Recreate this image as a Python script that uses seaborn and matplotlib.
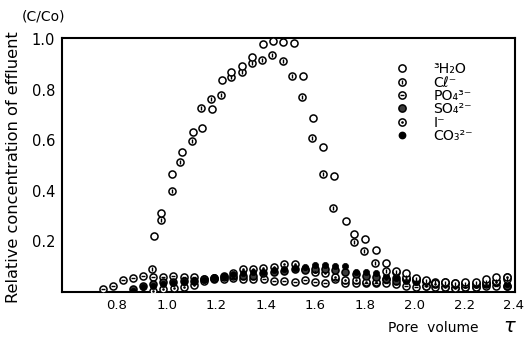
import matplotlib
matplotlib.use("Agg")
import matplotlib.pyplot as plt
import matplotlib.lines as mlines
import seaborn as sns
import pandas as pd
import numpy as np

# ---------------- data ----------------
h2o_x = [0.949, 0.977, 1.022, 1.06, 1.105, 1.143, 1.181, 1.225, 1.261, 1.305, 1.343, 1.387,
         1.427, 1.47, 1.514, 1.551, 1.589, 1.629, 1.675, 1.722, 1.757, 1.801, 1.844, 1.885,
         1.925, 1.965, 2.005, 2.046, 2.082, 2.123, 2.163, 2.203, 2.248, 2.288, 2.328, 2.371]
h2o_y = [0.223, 0.311, 0.466, 0.555, 0.631, 0.647, 0.722, 0.837, 0.871, 0.892, 0.928, 0.979,
         0.993, 0.987, 0.983, 0.854, 0.688, 0.574, 0.458, 0.282, 0.229, 0.211, 0.165, 0.113,
         0.084, 0.074, 0.054, 0.047, 0.037, 0.041, 0.034, 0.041, 0.041, 0.05, 0.058, 0.06]

cl_x = [0.94, 0.977, 1.022, 1.054, 1.102, 1.139, 1.179, 1.22, 1.261, 1.305, 1.343, 1.383,
        1.425, 1.468, 1.504, 1.547, 1.588, 1.629, 1.672, 1.757, 1.797, 1.84, 1.885, 1.925,
        1.965, 2.005, 2.046, 2.082, 2.123, 2.163, 2.203, 2.248, 2.288, 2.328, 2.371]
cl_y = [0.09, 0.285, 0.40, 0.514, 0.596, 0.728, 0.764, 0.777, 0.851, 0.871, 0.904, 0.917,
        0.937, 0.913, 0.854, 0.77, 0.607, 0.466, 0.331, 0.196, 0.162, 0.113, 0.084, 0.08,
        0.06, 0.05, 0.045, 0.04, 0.035, 0.03, 0.03, 0.035, 0.04, 0.045, 0.05]

po4_x = [0.742, 0.782, 0.825, 0.863, 0.906, 0.946, 0.984, 1.027, 1.071, 1.112, 1.151, 1.192,
         1.231, 1.269, 1.309, 1.35, 1.394, 1.433, 1.473, 1.518, 1.558, 1.598, 1.639, 1.679,
         1.72, 1.764, 1.804, 1.844, 1.885, 1.925, 1.965, 2.005, 2.046, 2.082, 2.123, 2.163,
         2.203, 2.248, 2.288, 2.328, 2.371]
po4_y = [0.011, 0.025, 0.047, 0.054, 0.063, 0.058, 0.06, 0.063, 0.06, 0.06, 0.05, 0.05,
         0.05, 0.055, 0.05, 0.05, 0.05, 0.045, 0.045, 0.041, 0.046, 0.041, 0.034, 0.05,
         0.034, 0.034, 0.034, 0.034, 0.034, 0.03, 0.025, 0.02, 0.025, 0.02, 0.02, 0.015,
         0.02, 0.02, 0.025, 0.025, 0.025]

so4_x = [0.863, 0.906, 0.946, 0.984, 1.027, 1.071, 1.112, 1.151, 1.192, 1.231, 1.269, 1.309,
         1.35, 1.39, 1.433, 1.473, 1.518, 1.558, 1.598, 1.639, 1.679, 1.72, 1.764, 1.804,
         1.844, 1.885, 1.925, 1.965, 2.005, 2.046, 2.082, 2.123, 2.163, 2.203, 2.248, 2.288,
         2.328, 2.371]
so4_y = [0.012, 0.025, 0.03, 0.04, 0.04, 0.045, 0.045, 0.05, 0.055, 0.06, 0.065, 0.063,
         0.065, 0.075, 0.08, 0.084, 0.09, 0.085, 0.09, 0.09, 0.085, 0.08, 0.07, 0.065,
         0.06, 0.05, 0.045, 0.05, 0.05, 0.045, 0.037, 0.04, 0.035, 0.035, 0.03, 0.035,
         0.04, 0.025]

i_x = [0.946, 0.987, 1.03, 1.071, 1.112, 1.151, 1.192, 1.231, 1.269, 1.309, 1.35, 1.39,
       1.433, 1.473, 1.518, 1.558, 1.598, 1.639, 1.679, 1.72, 1.764, 1.804, 1.844, 1.885,
       1.925, 1.965, 2.005, 2.046, 2.082, 2.123, 2.163, 2.203, 2.248, 2.288, 2.328, 2.371]
i_y = [0.003, 0.011, 0.015, 0.019, 0.028, 0.045, 0.055, 0.065, 0.076, 0.09, 0.09, 0.094,
       0.1, 0.109, 0.109, 0.09, 0.08, 0.074, 0.06, 0.047, 0.047, 0.04, 0.04, 0.05,
       0.054, 0.05, 0.045, 0.025, 0.03, 0.02, 0.015, 0.02, 0.02, 0.03, 0.04, 0.058]

co3_x = [0.863, 0.906, 0.946, 0.984, 1.027, 1.071, 1.112, 1.151, 1.192, 1.231, 1.269, 1.309,
         1.35, 1.39, 1.433, 1.473, 1.518, 1.558, 1.598, 1.639, 1.679, 1.72, 1.764, 1.804,
         1.844, 1.885, 1.925, 1.965, 2.005, 2.046, 2.082, 2.123, 2.163, 2.203, 2.248, 2.288,
         2.328, 2.371]
co3_y = [0.005, 0.021, 0.025, 0.03, 0.035, 0.04, 0.045, 0.048, 0.058, 0.062, 0.07, 0.075,
         0.078, 0.08, 0.085, 0.09, 0.095, 0.098, 0.107, 0.107, 0.103, 0.103, 0.08, 0.08,
         0.074, 0.065, 0.054, 0.045, 0.04, 0.047, 0.037, 0.041, 0.03, 0.035, 0.041, 0.045,
         0.05, 0.03]

labels = ["\u00b3H\u2082O", "C\u2113\u207b", "PO\u2084\u00b3\u207b", "SO\u2084\u00b2\u207b",
          "I\u207b", "CO\u2083\u00b2\u207b"]
x_ticks = [0.8, 1.0, 1.2, 1.4, 1.6, 1.8, 2.0, 2.2, 2.4]
x_tick_labels = ["0.8", "1.0", "1.2", "1.4", "1.6", "1.8", "2.0", "2.2", "2.4"]
y_ticks = [0.2, 0.4, 0.6, 0.8, 1.0]
y_tick_labels = ["0.2", "0.4", "0.6", "0.8", "1.0"]

# ---------------- figure ----------------
sns.set_style("white")
plt.rcParams["font.family"] = ["DejaVu Sans"]
plt.rcParams["mathtext.fontset"] = "dejavusans"
plt.rcParams["text.color"] = "black"
plt.rcParams["xtick.color"] = "black"
plt.rcParams["ytick.color"] = "black"
plt.rcParams["xtick.labelcolor"] = "black"
plt.rcParams["ytick.labelcolor"] = "black"

fig = plt.figure(figsize=(5.27, 3.38), dpi=100)
ax = fig.add_axes([62 / 527, 1 - 292 / 338, (515 - 62) / 527, (292 - 38) / 338])

S = 26
EW = 1.1
def ring(x, y, face="white", s=S):
    sns.scatterplot(x=x, y=y, ax=ax, marker="o", s=s, color=face, edgecolor="black",
                    linewidth=EW, zorder=3, legend=False)

def inner(x, y, marker, s):
    sns.scatterplot(x=x, y=y, ax=ax, marker=marker, s=s, color="black", edgecolor="black",
                    linewidth=1.0, zorder=4, legend=False)

ring(po4_x, po4_y); inner(po4_x, po4_y, "_", 12)
ring(i_x, i_y); inner(i_x, i_y, ".", 3)
ring(so4_x, so4_y, face="#3a3a3a")
sns.scatterplot(x=co3_x, y=co3_y, ax=ax, marker="o", s=20, color="black", edgecolor="black",
                linewidth=0.5, zorder=3, legend=False)
ring(cl_x, cl_y); inner(cl_x, cl_y, "|", 12)
ring(h2o_x, h2o_y)

ax.set_xlim(0.578, 2.405)
ax.set_ylim(0, 1.004)
ax.set_xticks(x_ticks)
ax.set_xticklabels(x_tick_labels, fontsize=9.5)
ax.set_yticks(y_ticks)
ax.set_yticklabels(y_tick_labels, fontsize=10.5)
ax.set_xticks(np.arange(0.7, 2.41, 0.1), minor=True)
ax.set_yticks(np.arange(0.1, 1.0, 0.1), minor=True)
ax.tick_params(which="both", direction="in", color="black", width=1.2, labelcolor="black")
ax.tick_params(which="major", length=6, pad=5)
ax.tick_params(which="minor", length=4)
for sp in ax.spines.values():
    sp.set_color("black")
    sp.set_linewidth(1.5)
ax.set_xlabel("")
ax.set_ylabel("")

fig.text(14 / 527, 1 - 167 / 338, "Relative concentration of effluent", rotation=90,
         ha="center", va="center", fontsize=11.7, color="black")
fig.text(22 / 527, 1 - 17 / 338, "(C/Co)", ha="left", va="center", fontsize=10, color="black")
fig.text(388 / 527, 1 - 328 / 338, "Pore  volume", ha="left", va="center", fontsize=10,
         color="black")
fig.text(503 / 527, 1 - 326 / 338, r"$\tau$", ha="left", va="center", fontsize=14,
         color="black")

def mk(face="white", ms=5.2):
    return mlines.Line2D([], [], ls="", marker="o", ms=ms, mfc=face, mec="black", mew=EW)
def mi(marker, ms):
    return mlines.Line2D([], [], ls="", marker=marker, ms=ms, color="black", mew=1.0)

handles = [mk(), (mk(), mi("|", 3.5)), (mk(), mi("_", 3.5)), mk("#3a3a3a"),
           (mk(), mi(".", 1.8)), mk("black", 4.5)]
leg = ax.legend(handles, labels, loc="upper left", bbox_to_anchor=(388 / 527, 1 - 55 / 338),
                bbox_transform=fig.transFigure, frameon=False, fontsize=10.2,
                handlelength=1.0, handletextpad=1.7, labelspacing=-0.04, borderpad=0)
for t in leg.get_texts():
    t.set_color("black")

fig.savefig("out.png", dpi=100)
